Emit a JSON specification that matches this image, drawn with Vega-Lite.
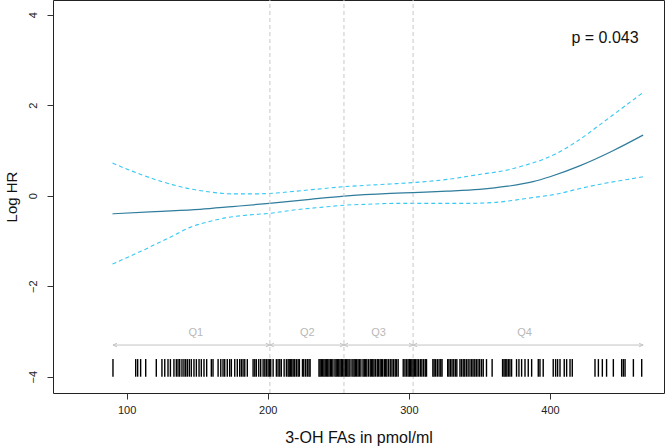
{
  "$schema": "https://vega.github.io/schema/vega-lite/v6.json",
  "width": 611,
  "height": 393,
  "autosize": {"type": "none"},
  "padding": {"left": 53, "top": 0, "right": 2, "bottom": 53},
  "config": {
    "view": {"stroke": "#222", "strokeWidth": 1},
    "font": "Liberation Sans",
    "axis": {
      "grid": false, "domain": false, "tickColor": "#333", "tickSize": 6,
      "labelFont": "Liberation Sans", "labelFontSize": 11, "labelColor": "#222",
      "titleFont": "Liberation Sans", "titleFontSize": 15, "titleFontWeight": "normal", "titleColor": "#111"
    }
  },
  "datasets": {
    "curves": [
      {"series": "est", "x": 90, "y": -0.40}, {"series": "est", "x": 120, "y": -0.35}, {"series": "est", "x": 152, "y": -0.30},
      {"series": "est", "x": 175, "y": -0.24}, {"series": "est", "x": 201, "y": -0.17}, {"series": "est", "x": 230, "y": -0.08},
      {"series": "est", "x": 254, "y": -0.01}, {"series": "est", "x": 287, "y": 0.05}, {"series": "est", "x": 303, "y": 0.07},
      {"series": "est", "x": 327, "y": 0.10}, {"series": "est", "x": 350, "y": 0.14}, {"series": "est", "x": 370, "y": 0.21},
      {"series": "est", "x": 388, "y": 0.31}, {"series": "est", "x": 400, "y": 0.42}, {"series": "est", "x": 421, "y": 0.66},
      {"series": "est", "x": 445, "y": 1.00}, {"series": "est", "x": 466, "y": 1.34},
      {"series": "hi", "x": 90, "y": 0.72}, {"series": "hi", "x": 100, "y": 0.59}, {"series": "hi", "x": 110, "y": 0.47},
      {"series": "hi", "x": 120, "y": 0.36}, {"series": "hi", "x": 133, "y": 0.24}, {"series": "hi", "x": 145, "y": 0.15},
      {"series": "hi", "x": 155, "y": 0.10}, {"series": "hi", "x": 165, "y": 0.06}, {"series": "hi", "x": 176, "y": 0.04},
      {"series": "hi", "x": 190, "y": 0.04}, {"series": "hi", "x": 201, "y": 0.05}, {"series": "hi", "x": 220, "y": 0.10},
      {"series": "hi", "x": 240, "y": 0.16}, {"series": "hi", "x": 254, "y": 0.20}, {"series": "hi", "x": 270, "y": 0.23},
      {"series": "hi", "x": 287, "y": 0.26}, {"series": "hi", "x": 303, "y": 0.29}, {"series": "hi", "x": 327, "y": 0.36},
      {"series": "hi", "x": 350, "y": 0.47}, {"series": "hi", "x": 370, "y": 0.57}, {"series": "hi", "x": 383, "y": 0.68},
      {"series": "hi", "x": 395, "y": 0.80}, {"series": "hi", "x": 405, "y": 0.94}, {"series": "hi", "x": 420, "y": 1.22},
      {"series": "hi", "x": 435, "y": 1.56}, {"series": "hi", "x": 450, "y": 1.91}, {"series": "hi", "x": 466, "y": 2.28},
      {"series": "lo", "x": 90, "y": -1.51}, {"series": "lo", "x": 100, "y": -1.37}, {"series": "lo", "x": 110, "y": -1.23},
      {"series": "lo", "x": 120, "y": -1.08}, {"series": "lo", "x": 130, "y": -0.93}, {"series": "lo", "x": 145, "y": -0.70},
      {"series": "lo", "x": 160, "y": -0.56}, {"series": "lo", "x": 170, "y": -0.49}, {"series": "lo", "x": 185, "y": -0.43},
      {"series": "lo", "x": 201, "y": -0.39}, {"series": "lo", "x": 220, "y": -0.31}, {"series": "lo", "x": 240, "y": -0.25},
      {"series": "lo", "x": 254, "y": -0.21}, {"series": "lo", "x": 270, "y": -0.19}, {"series": "lo", "x": 290, "y": -0.17},
      {"series": "lo", "x": 303, "y": -0.17}, {"series": "lo", "x": 320, "y": -0.17}, {"series": "lo", "x": 340, "y": -0.17},
      {"series": "lo", "x": 360, "y": -0.15}, {"series": "lo", "x": 388, "y": -0.04}, {"series": "lo", "x": 407, "y": 0.05},
      {"series": "lo", "x": 420, "y": 0.15}, {"series": "lo", "x": 440, "y": 0.28}, {"series": "lo", "x": 455, "y": 0.36},
      {"series": "lo", "x": 466, "y": 0.42}
    ],
    "rug": [
      {"x": 90.3}, {"x": 106.4}, {"x": 107.8}, {"x": 109.9}, {"x": 113.5}, {"x": 121}, {"x": 125}, {"x": 127}, {"x": 129.3}, {"x": 131},
      {"x": 133.5}, {"x": 135.2}, {"x": 136.4}, {"x": 137.6}, {"x": 139.2}, {"x": 140.6}, {"x": 141.8}, {"x": 143}, {"x": 144.4}, {"x": 145.8},
      {"x": 147.7}, {"x": 149.4}, {"x": 151.3}, {"x": 152.9}, {"x": 154.8}, {"x": 156.7}, {"x": 160}, {"x": 161.2}, {"x": 164.8}, {"x": 166.7},
      {"x": 168.3}, {"x": 169.5}, {"x": 171.3}, {"x": 173}, {"x": 174.2}, {"x": 176.6}, {"x": 178.4}, {"x": 180.1}, {"x": 181.3}, {"x": 182.5},
      {"x": 183.7}, {"x": 185.5}, {"x": 189.6}, {"x": 190.8}, {"x": 191.9}, {"x": 193.6}, {"x": 195}, {"x": 196.7}, {"x": 197.9}, {"x": 199},
      {"x": 200.2}, {"x": 201.1}, {"x": 202.1}, {"x": 203.8}, {"x": 206.1}, {"x": 207.3}, {"x": 208.5}, {"x": 209.6}, {"x": 211.6}, {"x": 213.2},
      {"x": 214.4}, {"x": 215.2}, {"x": 216.1}, {"x": 217.0}, {"x": 218.0}, {"x": 219.1}, {"x": 220.3}, {"x": 221.5}, {"x": 222.4}, {"x": 224.6},
      {"x": 225.5}, {"x": 226.8}, {"x": 228.0}, {"x": 229.2}, {"x": 230.0}, {"x": 236.3}, {"x": 237.1}, {"x": 238.0}, {"x": 238.9}, {"x": 239.8},
      {"x": 240.7}, {"x": 241.6}, {"x": 242.5}, {"x": 243.4}, {"x": 244.4}, {"x": 245.3}, {"x": 246.2}, {"x": 247.6}, {"x": 248.5}, {"x": 249.4},
      {"x": 250.3}, {"x": 251.2}, {"x": 252.1}, {"x": 253.0}, {"x": 254.0}, {"x": 255.0}, {"x": 255.9}, {"x": 256.8}, {"x": 257.7}, {"x": 259.0},
      {"x": 260.3}, {"x": 261.2}, {"x": 262.1}, {"x": 263.0}, {"x": 264.0}, {"x": 264.9}, {"x": 266.0}, {"x": 267.5}, {"x": 268.4}, {"x": 269.3},
      {"x": 270.2}, {"x": 271.4}, {"x": 272.6}, {"x": 273.5}, {"x": 274.4}, {"x": 275.3}, {"x": 276.4}, {"x": 277.6}, {"x": 278.5}, {"x": 279.6},
      {"x": 280.5}, {"x": 281.4}, {"x": 282.6}, {"x": 283.5}, {"x": 284.4}, {"x": 285.6}, {"x": 286.8}, {"x": 288.0}, {"x": 289.1}, {"x": 290.3},
      {"x": 291.2}, {"x": 292.4}, {"x": 296.0}, {"x": 297.2}, {"x": 298.3}, {"x": 299.4}, {"x": 300.3}, {"x": 301.2}, {"x": 302.1}, {"x": 303.0},
      {"x": 303.9}, {"x": 304.8}, {"x": 305.8}, {"x": 306.9}, {"x": 308.1}, {"x": 309.2}, {"x": 310.4}, {"x": 311.6}, {"x": 312.5}, {"x": 317.0},
      {"x": 317.9}, {"x": 319.0}, {"x": 320.2}, {"x": 321.4}, {"x": 322.6}, {"x": 323.5}, {"x": 327.5}, {"x": 328.4}, {"x": 329.5}, {"x": 330.6},
      {"x": 331.8}, {"x": 333.0}, {"x": 334.0}, {"x": 336.2}, {"x": 337.3}, {"x": 338.5}, {"x": 339.6}, {"x": 340.8}, {"x": 342.0}, {"x": 343.3},
      {"x": 344.5}, {"x": 345.5}, {"x": 346.7}, {"x": 347.8}, {"x": 349.0}, {"x": 350.2}, {"x": 351.5}, {"x": 352.7}, {"x": 355.0}, {"x": 359.0},
      {"x": 366.4}, {"x": 367.4}, {"x": 368.3}, {"x": 369.4}, {"x": 370.5}, {"x": 371.6}, {"x": 372.8}, {"x": 376.3}, {"x": 378.0}, {"x": 379.9},
      {"x": 382.3}, {"x": 384.6}, {"x": 387.0}, {"x": 391.7}, {"x": 392.9}, {"x": 395.2}, {"x": 402.3}, {"x": 404.0}, {"x": 405.4}, {"x": 407.1},
      {"x": 410.1}, {"x": 411.8}, {"x": 414.2}, {"x": 415.8}, {"x": 431.9}, {"x": 434.3}, {"x": 437.1}, {"x": 440.1}, {"x": 444.9}, {"x": 450.8},
      {"x": 452.0}, {"x": 453.2}, {"x": 459.1}, {"x": 465.0}
    ],
    "quart": [
      {"q": "Q1", "x": 90.3, "x2": 201.5, "mid": 149},
      {"q": "Q2", "x": 201.5, "x2": 254, "mid": 228},
      {"q": "Q3", "x": 254, "x2": 303, "mid": 278.5},
      {"q": "Q4", "x": 303, "x2": 466, "mid": 382}
    ],
    "cuts": [{"x": 201.5}, {"x": 254}, {"x": 303}],
    "ptext": [{"x": 439, "y": 3.49, "label": "p = 0.043"}]
  },
  "layer": [
    {
      "data": {"name": "curves"},
      "transform": [{"filter": "datum.series === 'est'"}],
      "mark": {"type": "line", "color": "#2f7c9c", "strokeWidth": 1.2, "interpolate": "monotone"},
      "encoding": {
        "x": {
          "field": "x", "type": "quantitative",
          "scale": {"domain": [47.8, 480.8], "nice": false, "zero": false},
          "axis": {"values": [100, 200, 300, 400], "title": "3-OH FAs in pmol/ml", "labelPadding": 5, "titlePadding": 14, "titleFontSize": 16}
        },
        "y": {
          "field": "y", "type": "quantitative",
          "scale": {"domain": [-4.36, 4.325], "nice": false, "zero": false},
          "axis": {"values": [-4, -2, 0, 2, 4], "title": "Log HR", "labelAngle": -90, "labelAlign": "center", "labelBaseline": "bottom", "labelPadding": 9, "titlePadding": 8}
        }
      }
    },
    {
      "data": {"name": "curves"},
      "transform": [{"filter": "datum.series !== 'est'"}],
      "mark": {"type": "line", "color": "#38c8f4", "strokeDash": [4, 3], "strokeWidth": 1.1, "interpolate": "monotone"},
      "encoding": {
        "x": {"field": "x", "type": "quantitative"},
        "y": {"field": "y", "type": "quantitative"},
        "detail": {"field": "series"}
      }
    },
    {
      "data": {"name": "cuts"},
      "mark": {"type": "rule", "color": "#c8c8c8", "strokeDash": [4, 3], "strokeWidth": 1},
      "encoding": {
        "x": {"field": "x", "type": "quantitative"},
        "y": {"datum": -4.36, "type": "quantitative"},
        "y2": {"datum": 4.325}
      }
    },
    {
      "data": {"name": "quart"},
      "mark": {"type": "rule", "color": "#c4c4c4", "strokeWidth": 1},
      "encoding": {
        "x": {"field": "x", "type": "quantitative"},
        "x2": {"field": "x2"},
        "y": {"datum": -3.3, "type": "quantitative"}
      }
    },
    {
      "data": {"name": "quart"},
      "mark": {"type": "point", "shape": "M1.6,-0.7L0,0L1.6,0.7", "filled": false, "stroke": "#c4c4c4", "strokeWidth": 1, "size": 25, "opacity": 1},
      "encoding": {
        "x": {"field": "x", "type": "quantitative"},
        "y": {"datum": -3.3, "type": "quantitative"}
      }
    },
    {
      "data": {"name": "quart"},
      "mark": {"type": "point", "shape": "M-1.6,-0.7L0,0L-1.6,0.7", "filled": false, "stroke": "#c4c4c4", "strokeWidth": 1, "size": 25, "opacity": 1},
      "encoding": {
        "x": {"field": "x2", "type": "quantitative"},
        "y": {"datum": -3.3, "type": "quantitative"}
      }
    },
    {
      "data": {"name": "quart"},
      "mark": {"type": "text", "color": "#b8b8b8", "fontSize": 11, "baseline": "middle", "align": "center"},
      "encoding": {
        "x": {"field": "mid", "type": "quantitative"},
        "y": {"datum": -3.03, "type": "quantitative"},
        "text": {"field": "q"}
      }
    },
    {
      "data": {"name": "rug"},
      "mark": {"type": "rule", "color": "#000", "strokeWidth": 1.4},
      "encoding": {
        "x": {"field": "x", "type": "quantitative"},
        "y": {"datum": -3.61, "type": "quantitative"},
        "y2": {"datum": -4.0}
      }
    },
    {
      "data": {"name": "ptext"},
      "mark": {"type": "text", "fontSize": 16, "color": "#111", "align": "center", "baseline": "middle"},
      "encoding": {
        "x": {"field": "x", "type": "quantitative"},
        "y": {"field": "y", "type": "quantitative"},
        "text": {"field": "label"}
      }
    }
  ]
}
